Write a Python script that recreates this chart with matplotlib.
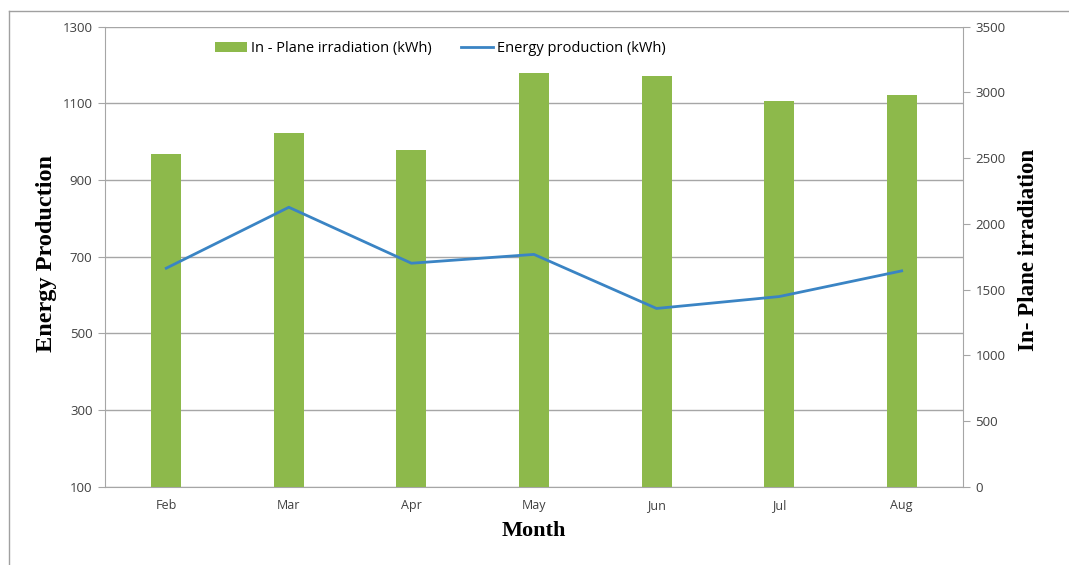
import numpy as np
import matplotlib
matplotlib.use("Agg")
import matplotlib.pyplot as plt
from matplotlib.lines import Line2D

months = ["Feb", "Mar", "Apr", "May", "Jun", "Jul", "Aug"]
irradiation = [2531, 2689, 2564, 3148, 3123, 2935, 2978]   # kWh, right axis
energy = [670, 829, 683, 706, 565, 596, 663]                # kWh, left axis

left_ticks = [100, 300, 500, 700, 900, 1100, 1300]
right_ticks = [0, 500, 1000, 1500, 2000, 2500, 3000, 3500]

bar_color = "#8DB94B"
line_color = "#3A84C4"
grid_color = "#A6A6A6"
tick_color = "#404040"
tick_font = "Open Sans"
title_font = "Liberation Serif"

fig = plt.figure(figsize=(10.69, 5.65), dpi=100)
ax = fig.add_axes([0.0982, 0.1386, 0.8026, 0.8141])
x = np.arange(len(months))

# left axis: grid + energy scale
ax.set_xlim(-0.5, len(months) - 0.5)
ax.set_ylim(100, 1300)
ax.set_yticks(left_ticks)
ax.grid(axis="y", color=grid_color, linewidth=1.0)
ax.set_axisbelow(True)
ax.set_xticks(x)
ax.set_xticklabels(months, fontsize=9, family=tick_font, color=tick_color)
ax.tick_params(axis="x", length=0, pad=9)
ax.tick_params(axis="y", length=5, color=grid_color, labelsize=9.5,
               labelcolor=tick_color, pad=4)
for lab in ax.get_yticklabels():
    lab.set_family(tick_font)
for s in ["top", "right"]:
    ax.spines[s].set_visible(False)
for s in ["left", "bottom"]:
    ax.spines[s].set_color(grid_color)

# right axis: irradiation bars
ax2 = ax.twinx()
bars = ax2.bar(x, irradiation, width=0.245, color=bar_color, zorder=2)
ax2.set_ylim(0, 3500)
ax2.set_yticks(right_ticks)
ax2.tick_params(axis="y", length=5, color=grid_color, labelsize=9.5,
                labelcolor=tick_color, pad=4)
for lab in ax2.get_yticklabels():
    lab.set_family(tick_font)
for s in ["top", "left", "bottom"]:
    ax2.spines[s].set_visible(False)
ax2.spines["right"].set_color(grid_color)

# energy line drawn on a hidden copy of the left scale so it sits above the bars
ax3 = ax.twinx()
ax3.set_ylim(ax.get_ylim())
line, = ax3.plot(x, energy, color=line_color, linewidth=2.0)
ax3.axis("off")

ax.set_ylabel("Energy Production", fontsize=17.5, fontweight="bold",
              family=title_font)
ax.yaxis.set_label_coords(-0.056, 0.506)
ax.set_xlabel("Month", fontsize=16, fontweight="bold", family=title_font,
              labelpad=6)
ax2.set_ylabel("In- Plane irradiation", fontsize=16.5, fontweight="bold",
               family=title_font)
ax2.yaxis.set_label_coords(1.064, 0.515)

fig.legend([bars, line], ["In - Plane irradiation (kWh)", "Energy production (kWh)"],
           loc="center", bbox_to_anchor=(0.412, 0.914), ncol=2, frameon=False,
           prop={"family": tick_font, "size": 10.5}, handlelength=2.2,
           handletextpad=0.3, columnspacing=2.0)

# outer frame lines (top and left)
fig.add_artist(Line2D([9 / 1069, 1.0], [1 - 11 / 565, 1 - 11 / 565],
                      color="#A0A0A0", linewidth=1.0))
fig.add_artist(Line2D([9 / 1069, 9 / 1069], [0.0, 1 - 11 / 565],
                      color="#A0A0A0", linewidth=1.0))

fig.savefig("out.png", dpi=100)
